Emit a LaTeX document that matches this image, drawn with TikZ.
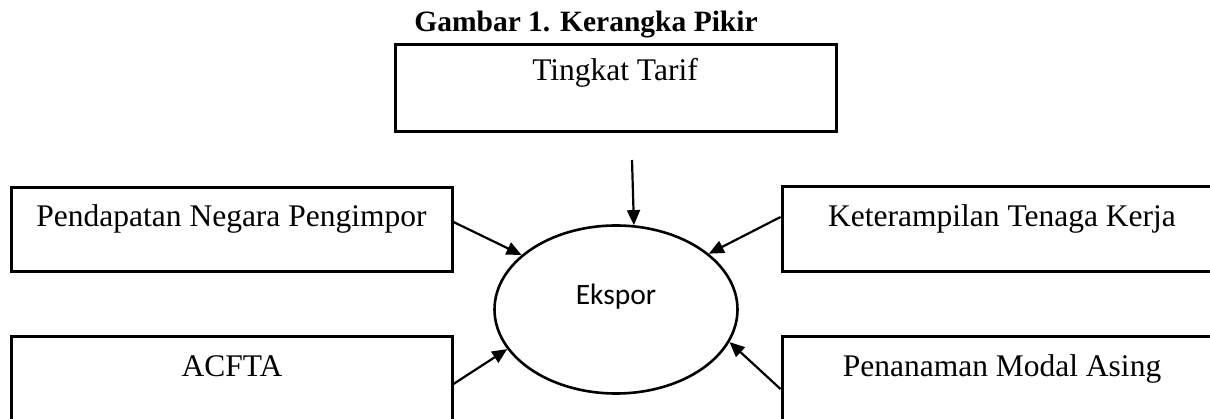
\documentclass[tikz,border=0pt]{standalone}
\usepackage{fontspec}
\setmainfont{Liberation Serif}
\newfontfamily\ekfont{Carlito}
\usetikzlibrary{arrows.meta,shapes.geometric}

\tikzset{
  factor/.style={draw, line width=3pt, rectangle, inner sep=0pt},
  boxtext/.style={anchor=base, inner sep=0pt, font=\fontsize{31.5}{36}\selectfont},
  hub/.style={draw, line width=2.6pt, ellipse, inner sep=0pt,
              minimum width=243pt, minimum height=168pt},
  influence/.style={line width=2.2pt, -{Triangle[length=15pt,width=13pt]}},
}

\begin{document}
\begin{tikzpicture}[x=1pt, y=-1pt]
  \useasboundingbox (0,0) rectangle (1210,419);
  \clip (0,0) rectangle (1210,419);

  % title
  \node[anchor=base, inner sep=0pt, font=\fontsize{29.5}{34}\selectfont\bfseries]
    (title) at (586,32) {Gambar 1. Kerangka Pikir};

  % factor boxes
  \node[factor, minimum width=441pt, minimum height=87pt] (tarif) at (615.5,88.5) {};
  \node[factor, minimum width=441pt, minimum height=84pt] (income) at (231.5,230) {};
  \node[factor, minimum width=440pt, minimum height=85pt] (skill) at (1002,229.5) {};
  \node[factor, minimum width=441pt, minimum height=100pt] (acfta) at (231.5,387) {};
  \node[factor, minimum width=440pt, minimum height=100pt] (fdi) at (1002,387) {};

  % box labels
  \node[boxtext] (tarift) at (615,81) {Tingkat Tarif};
  \node[boxtext] (incomet) at (231.5,227) {Pendapatan Negara Pengimpor};
  \node[boxtext] (skillt) at (1002,227) {Keterampilan Tenaga Kerja};
  \node[boxtext] (acftat) at (232,377) {ACFTA};
  \node[boxtext] (fdit) at (1002,377) {Penanaman Modal Asing};

  % central outcome
  \node[hub] (ekspor) at (616,309.5) {};
  \node[anchor=base, inner sep=0pt, font=\ekfont\fontsize{29.5}{34}\selectfont]
    (eksport) at (616,305) {Ekspor};

  % influences on exports
  \coordinate (tarifsrc) at (632,160);
  \draw[influence] (tarifsrc) -- (ekspor.78.6);
  \draw[influence] (income.east |- 0,222) -- (ekspor.150.9);
  \draw[influence] (skill.west |- 0,217) -- (ekspor.31.4);
  \draw[influence] (acfta.east |- 0,384) -- (ekspor.200.2);
  \draw[influence] (fdi.west |- 0,389) -- (ekspor.344.2);
\end{tikzpicture}
\end{document}
